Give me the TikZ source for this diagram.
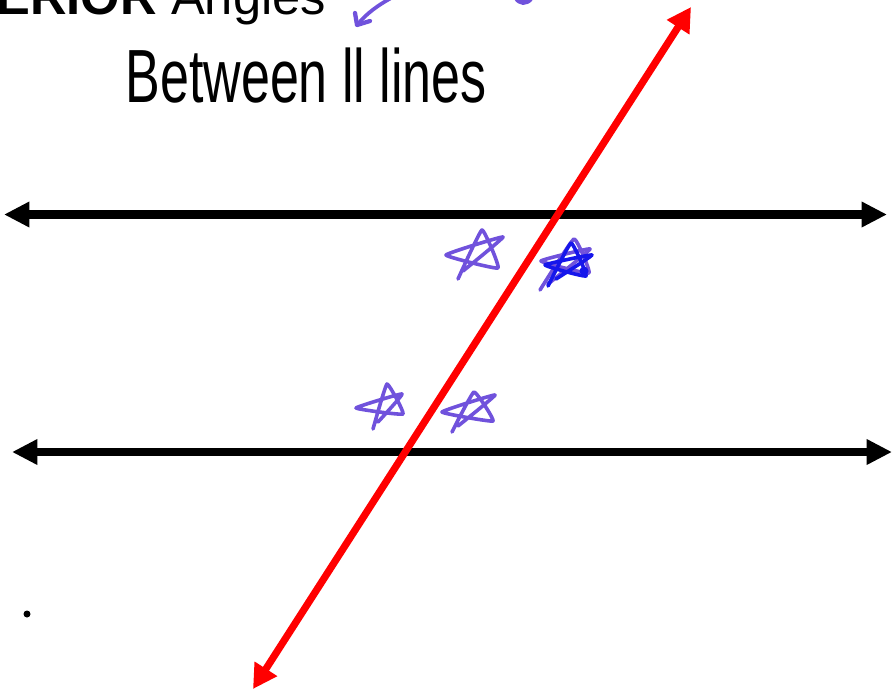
\documentclass[tikz,border=0pt]{standalone}
\usepackage{fontspec}
\setmainfont{Liberation Sans}
\usetikzlibrary{arrows.meta}

\definecolor{penpurple}{RGB}{112,82,220}
\definecolor{penblue}{RGB}{22,22,235}

\tikzset{every picture/.style={line width=0.75pt}}
\tikzset{
  parline/.style={line width=6.2pt,{Triangle[length=19pt,width=18pt]}-{Triangle[length=19pt,width=18pt]}},
  transline/.style={color=red,line width=5.4pt,{Triangle[length=18pt,width=19pt]}-{Triangle[length=18pt,width=19pt]}},
  starpen/.style={color=penpurple,line width=2.7pt,line cap=round,line join=round},
  bluepen/.style={color=penblue,line width=2.7pt,line cap=round,line join=round},
}

\begin{document}
\begin{tikzpicture}[x=0.75pt,y=0.75pt,yscale=-1,xscale=1]
\useasboundingbox (0,0) rectangle (892,690);
\clip (0,0) rectangle (892,690);

% Text Node
\node (title) [anchor=base west,inner sep=0pt,font=\fontsize{38}{40}\selectfont] at (-4,14) {\textbf{ERIOR} Angles};
% Text Node
\node (hand) [anchor=base west,inner sep=0pt,font=\fontsize{39}{42}\selectfont] at (125,102) {\scalebox{1}[1.45]{Between ll lines}};

%Curve Lines [id:pen arrow]
\draw [starpen,line width=2.8pt] (393,-3) .. controls (378,5) and (366,14) .. (358,24) ;
\draw [starpen,line width=3.2pt] (355,13) -- (357,25) -- (370,21) ;
%Curve Lines [id:pen blob]
\draw [starpen,line width=3.8pt] (516,-3) .. controls (519,4) and (527,4) .. (531,-2) ;

%Straight Lines [id:upper parallel]
\coordinate (ua) at (4,214.5);
\coordinate (ub) at (887,214.5);
\draw [parline] (ua) -- (ub) ;
%Straight Lines [id:lower parallel]
\coordinate (la) at (12,452);
\coordinate (lb) at (892,452);
\draw [parline] (la) -- (lb) ;
%Straight Lines [id:transversal]
\coordinate (ta) at (691,7);
\coordinate (tb) at (253,689);
\draw [transline] (tb) -- (ta) ;

%Shape: Star [id:upper left]
\draw [starpen] plot [smooth,tension=0.2] coordinates {(458,279) (482,230) (498,268) (446,255) (503,237) (463,271)} ;
%Shape: Star [id:upper right]
\draw [starpen] plot [smooth,tension=0.2] coordinates {(540,290) (574,239) (589,273) (541,261) (590,249) (548,284)} ;
\draw [bluepen] plot [smooth,tension=0.2] coordinates {(548,286) (571,243) (586,276) (545,265) (592,255) (556,279)} ;
\fill [penblue] (584,271) circle [radius=4.5] ;
%Shape: Star [id:lower left]
\draw [starpen] plot [smooth,tension=0.2] coordinates {(373,429) (387,384) (403,414) (356,408) (402,394) (378,422)} ;
%Shape: Star [id:lower right]
\draw [starpen] plot [smooth,tension=0.2] coordinates {(452,432) (474,392) (493,421) (442,412) (495,395) (458,426)} ;

%Shape: Circle [id:dot]
\fill (27,614) circle [radius=3.5] ;

\end{tikzpicture}
\end{document}
